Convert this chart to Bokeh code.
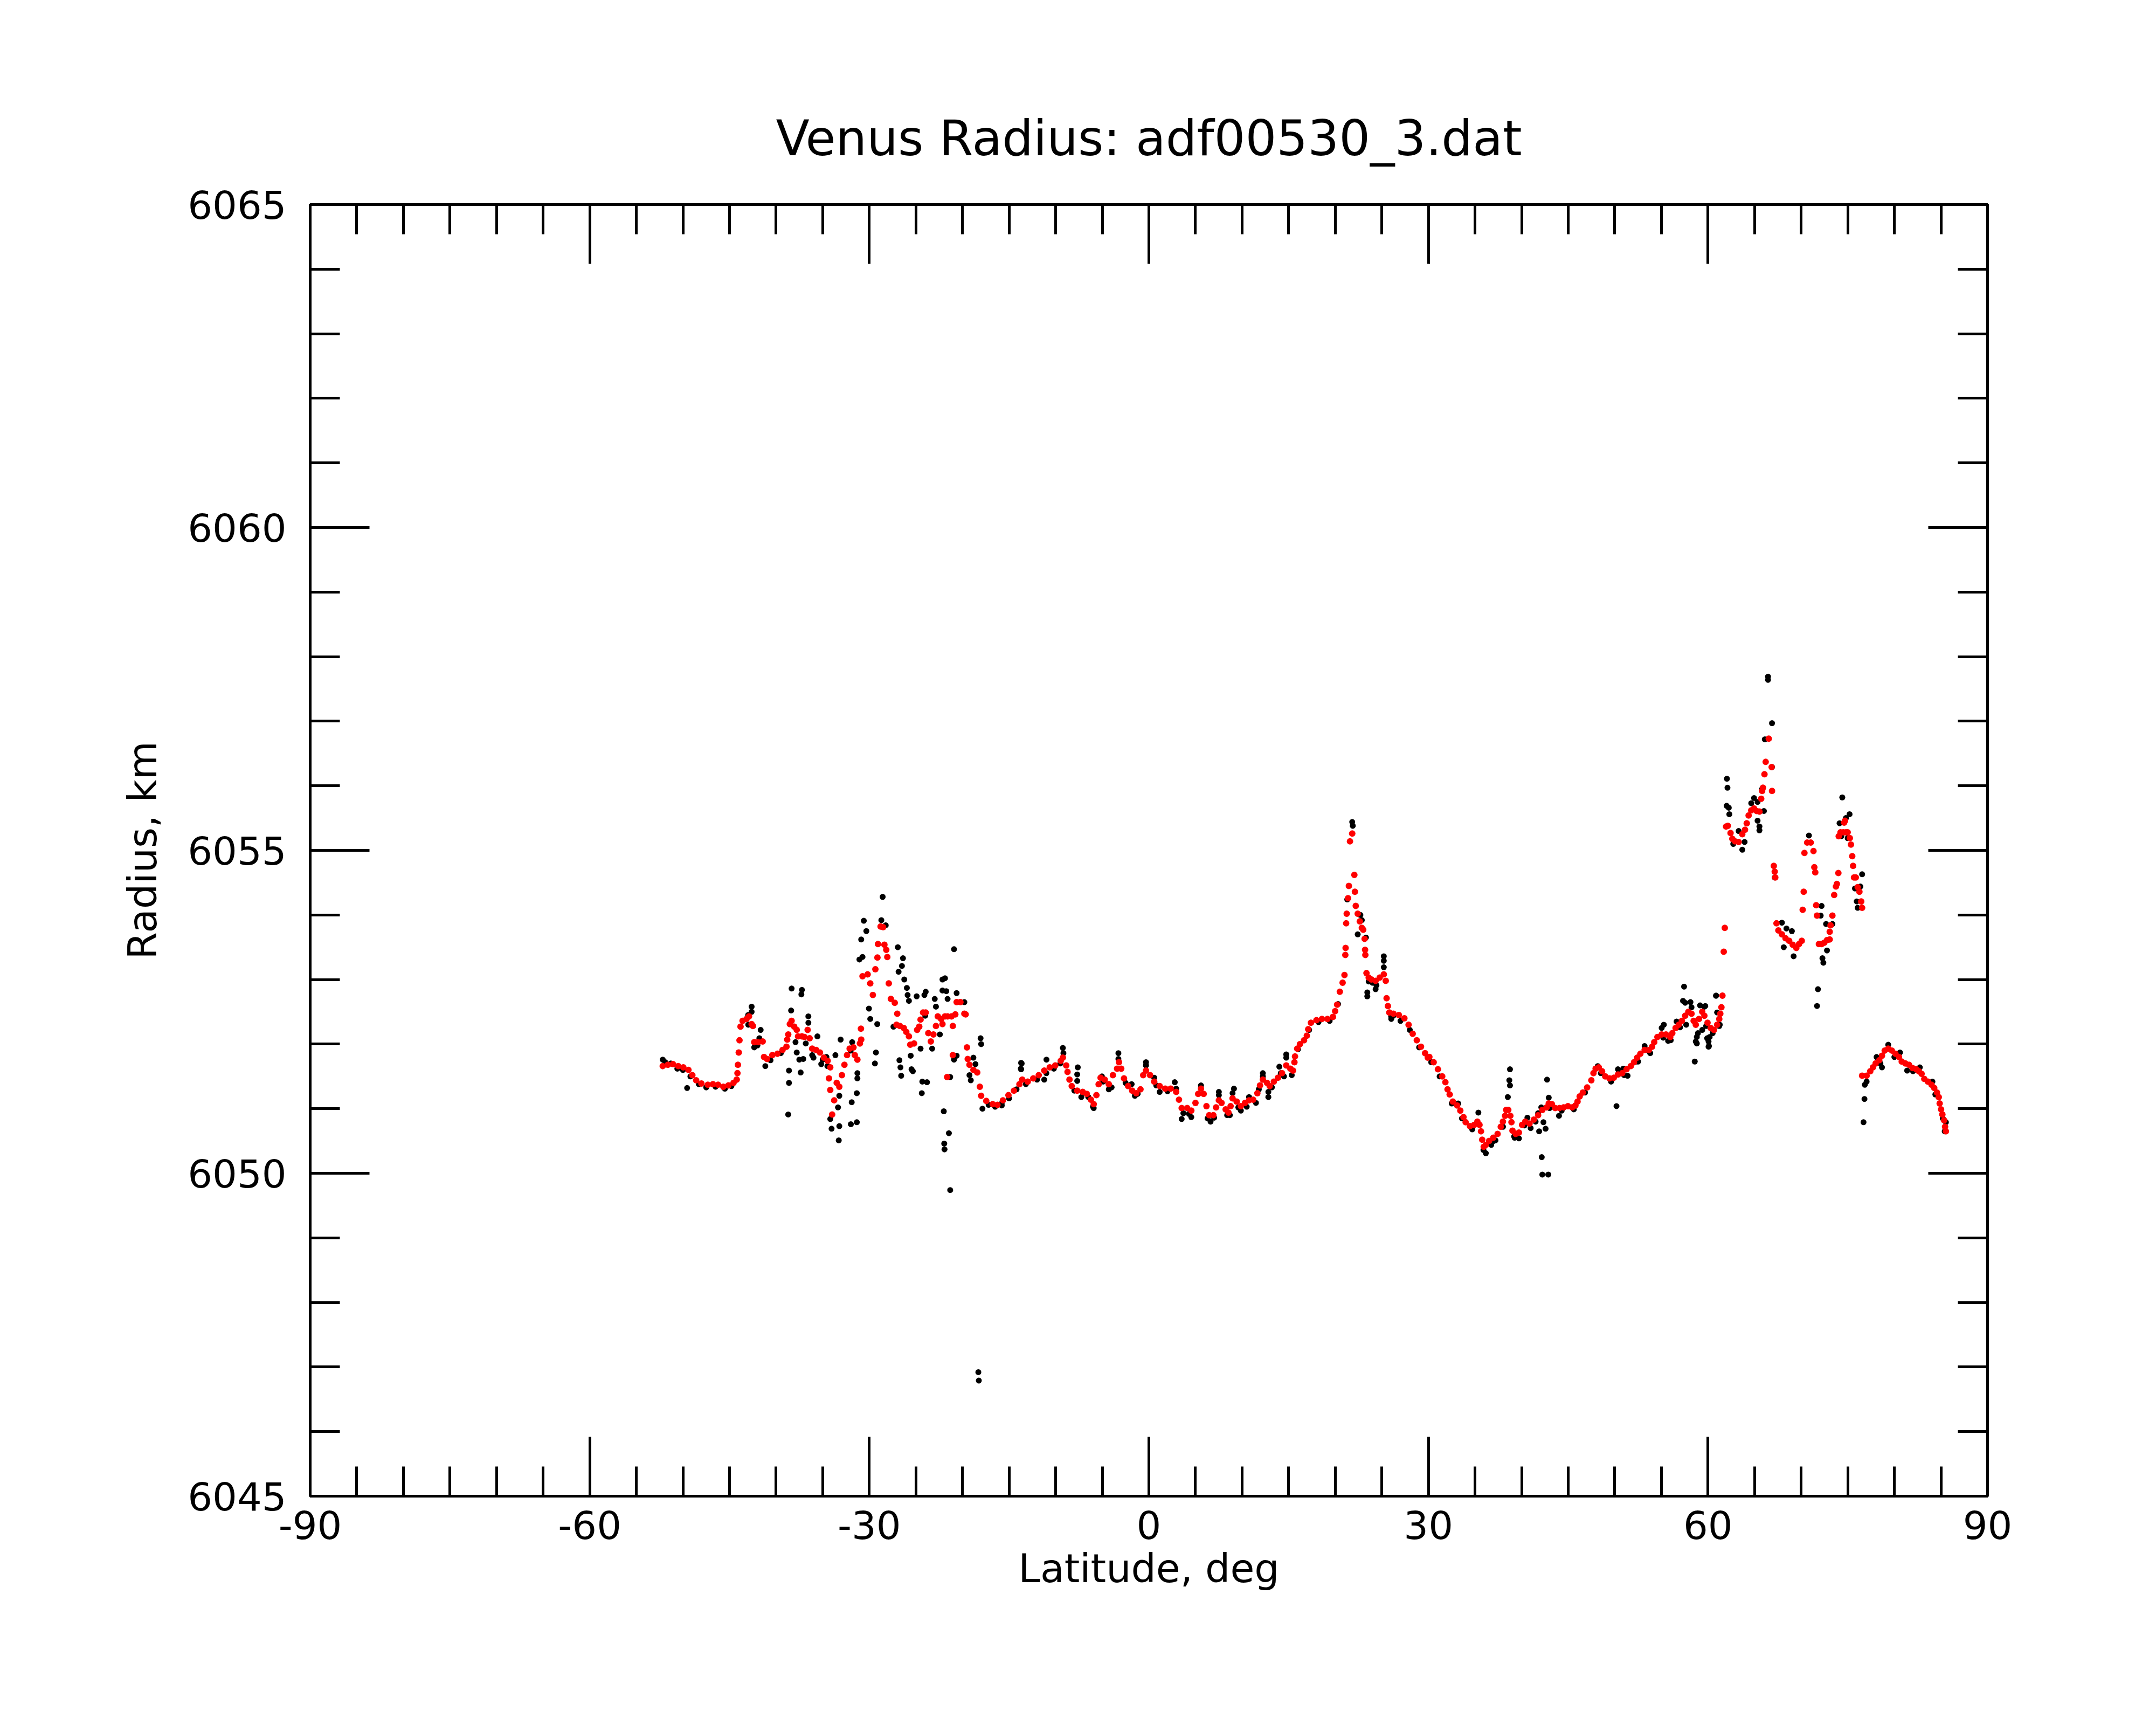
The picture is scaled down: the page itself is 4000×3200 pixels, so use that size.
from bokeh.plotting import figure
from bokeh.models import Range1d, FixedTicker, LinearAxis
from bokeh.embed import file_html
from bokeh.resources import INLINE

# ---------------- data ----------------
title_text = "Venus Radius: adf00530_3.dat"
x_label = "Latitude, deg"
y_label = "Radius, km"

x_major = [-90, -60, -30, 0, 30, 60, 90]
x_minor = list(range(-90, 91, 5))
y_major = [6045, 6050, 6055, 6060, 6065]
y_minor = list(range(6045, 6066, 1))

# smoothed radius (red), southern part
fit_lat_s = [-52.17,-51.62,-51.07,-50.51,-49.96,-49.41,-48.99,-48.58,-48.02,-47.33,
             -46.78,-46.23,-45.67,-45.12,-44.57,-44.23,-44.15,-44.10,-44.01,-43.93,
             -43.82,-43.60,-43.18,-42.91,-42.63,-42.49,-42.35,-41.94,-41.44,-41.30,
             -40.97,-40.41,-39.86,-39.31,-38.89,-38.81,-38.70,-38.53,-38.34,-38.06,
             -37.79,-37.65,-37.23,-36.96,-36.62,-36.40,-36.13,-35.71,-35.30,-34.88,
             -34.47,-34.19,-34.33,-34.19,-33.77,-33.99,-33.50,-33.22,-32.94,-32.67,
             -32.39,-32.11,-31.70,-31.56,-31.28,-31.01,-30.87,-30.90,-30.73,-30.18,
             -29.90,-29.62,-29.35,-29.13,-29.07,-28.79,-28.52,-28.38,-28.18,-28.07,
             -27.91,-27.69,-27.27,-27.00,-27.08,-26.72,-26.30,-26.03,-25.75,-25.61,
             -25.20,-24.87,-24.64,-24.50,-24.23,-23.95,-23.67,-23.40,-23.12,-22.85,
             -22.65,-22.29,-22.15,-21.88,-21.60,-21.18,-21.04,-20.77,-20.63,-20.22,
             -19.80,-19.66,-21.04,-21.65,-19.52,-19.44,-19.25,-18.83,-18.42,-18.14,
             -18.00,-17.45,-16.76]
fit_rad_s = [6051.66,6051.68,6051.69,6051.66,6051.64,6051.60,6051.52,6051.44,6051.39,6051.37,
             6051.38,6051.37,6051.34,6051.36,6051.40,6051.45,6051.55,6051.68,6051.87,6052.06,
             6052.27,6052.36,6052.39,6052.43,6052.31,6052.28,6052.03,6052.03,6052.04,6051.80,
             6051.77,6051.83,6051.85,6051.91,6051.96,6052.07,6052.15,6052.31,6052.36,6052.27,
             6052.22,6052.12,6052.12,6052.11,6052.22,6052.09,6051.93,6051.91,6051.87,6051.79,
             6051.74,6051.64,6051.47,6051.29,6051.13,6050.91,6051.40,6051.34,6051.52,6051.68,
             6051.83,6051.93,6051.95,6051.83,6051.76,6052.01,6052.07,6052.24,6053.05,6053.08,
             6052.94,6052.76,6053.16,6053.34,6053.55,6053.82,6053.81,6053.54,6053.46,6053.35,
             6052.94,6052.70,6052.64,6052.47,6052.30,6052.28,6052.25,6052.19,6052.12,6051.99,
             6052.01,6052.22,6052.27,6052.38,6052.49,6052.49,6052.17,6052.04,6052.15,6052.28,
             6052.43,6052.39,6052.31,6052.43,6052.43,6052.43,6052.28,6052.46,6052.65,6052.65,
             6052.47,6052.46,6051.83,6051.49,6051.95,6051.77,6051.68,6051.60,6051.56,6051.34,
             6051.20,6051.12,6051.07]

# smoothed radius (red), equatorial part
fit_lat_e = [-16.25,-15.66,-15.07,-14.48,-13.89,-13.59,-13.00,-12.41,-11.82,-11.23,
             -10.64,-10.05,-9.46,-9.23,-8.87,-8.73,-8.52,-8.28,-7.69,-7.10,
             -6.66,-6.22,-5.92,-5.63,-5.39,-5.18,-4.74,-4.30,-3.86,-3.41,
             -3.21,-2.97,-2.67,-2.23,-1.79,-1.35,-0.90,-0.61,-0.31,0.13,
             0.57,1.16,1.75,2.34,2.93,3.23,3.52,4.11,4.55,5.00,
             5.29,5.59,5.88,6.18,6.47,6.92,7.21,7.51,7.80,8.24,
             8.54,8.77,8.98,9.42,9.87,10.31,10.75,11.19,11.64,11.93,
             12.23,12.67,12.96,13.41,13.85,14.29,14.74,15.18,15.47,15.62,
             15.68,15.92,16.21,16.65,16.95,17.10,17.39,17.98,18.57,19.16,
             19.75,19.99,20.20,20.49,20.79,20.99,21.08,21.11,21.17,21.23,
             21.37,21.46,21.58,21.82,22.05,22.11,22.20,22.41,22.64,22.85,
             23.00,23.15,23.20,23.23,23.35,23.59,23.88,24.33,24.77,25.21,
             25.42,25.51,25.65,25.80,26.24,26.83,27.42,27.87,28.31,28.75,
             29.20,29.64,29.93]
fit_rad_e = [6051.06,6051.13,6051.21,6051.28,6051.38,6051.45,6051.42,6051.47,6051.52,6051.59,
             6051.64,6051.67,6051.74,6051.79,6051.67,6051.57,6051.45,6051.35,6051.28,6051.26,
             6051.23,6051.14,6051.07,6051.21,6051.38,6051.48,6051.45,6051.38,6051.52,6051.62,
             6051.72,6051.62,6051.47,6051.35,6051.28,6051.24,6051.30,6051.52,6051.59,6051.52,
             6051.42,6051.35,6051.31,6051.31,6051.26,6051.14,6051.01,6051.01,6050.97,6051.09,
             6051.23,6051.31,6051.23,6051.04,6050.90,6050.90,6051.02,6051.13,6051.09,6050.99,
             6050.94,6051.04,6051.16,6051.11,6051.04,6051.09,6051.13,6051.14,6051.24,6051.36,
             6051.45,6051.40,6051.35,6051.42,6051.48,6051.55,6051.67,6051.62,6051.59,6051.72,
             6051.81,6051.93,6052.00,6052.06,6052.13,6052.23,6052.33,6052.37,6052.39,6052.39,
             6052.42,6052.51,6052.61,6052.81,6052.95,6053.07,6053.38,6053.49,6053.87,6054.02,
             6054.26,6054.45,6055.14,6055.26,6054.62,6054.36,6054.14,6054.02,6053.90,6053.80,
             6053.77,6053.63,6053.46,6053.38,6053.10,6053.03,6053.00,6052.98,6053.03,6053.08,
             6052.98,6052.71,6052.59,6052.49,6052.47,6052.45,6052.40,6052.30,6052.16,6052.06,
             6051.96,6051.86,6051.79]

# smoothed radius (red), mid-northern part
fit_lat_m = [30.10,30.56,31.02,31.48,31.82,32.05,32.28,32.62,33.08,33.42,
             33.76,33.99,34.45,34.91,35.25,35.48,35.64,35.77,35.93,36.16,
             36.51,36.96,37.42,37.76,37.99,38.22,38.34,38.57,38.79,38.91,
             39.02,39.37,39.71,40.05,40.39,40.85,41.31,41.77,42.22,42.68,
             42.91,43.25,43.60,44.05,44.51,44.97,45.43,45.77,46.00,46.23,
             46.57,47.03,47.48,47.71,47.94,48.28,48.63,48.97,49.43,49.89,
             50.34,50.80,51.26,51.72,52.06,52.40,52.74,53.20,53.66,54.00,
             54.23,54.57,55.03,55.49,55.95,56.17,56.52,56.86,57.20,57.55,
             57.89,58.23,58.46,58.69,59.03,59.38,59.61,59.95,60.29,60.64,
             60.98,61.21,61.32,61.44,61.55]
fit_rad_m = [6051.80,6051.72,6051.61,6051.50,6051.41,6051.30,6051.22,6051.11,6051.05,6050.97,
             6050.87,6050.79,6050.73,6050.75,6050.80,6050.75,6050.65,6050.52,6050.41,6050.44,
             6050.50,6050.55,6050.61,6050.72,6050.80,6050.89,6050.98,6050.98,6050.89,6050.79,
             6050.66,6050.61,6050.63,6050.75,6050.80,6050.77,6050.83,6050.90,6050.98,6051.02,
             6051.08,6051.07,6051.01,6051.01,6051.02,6051.04,6051.02,6051.05,6051.11,6051.19,
             6051.25,6051.33,6051.44,6051.55,6051.62,6051.64,6051.58,6051.50,6051.47,6051.48,
             6051.53,6051.55,6051.61,6051.66,6051.72,6051.79,6051.85,6051.91,6051.91,6051.96,
             6052.03,6052.11,6052.15,6052.15,6052.11,6052.17,6052.25,6052.30,6052.36,6052.44,
             6052.50,6052.47,6052.36,6052.30,6052.39,6052.50,6052.44,6052.33,6052.25,6052.22,
             6052.30,6052.39,6052.47,6052.57,6052.75]

# smoothed radius (red), high northern part
fit_lat_n = [61.69,61.80,61.94,62.13,62.42,62.61,62.90,63.29,63.68,63.97,
             64.16,64.36,64.64,64.94,65.23,65.52,65.71,65.81,65.90,66.06,
             66.19,66.52,66.83,66.87,67.06,67.16,67.22,67.35,67.55,67.93,
             68.32,68.71,69.09,69.48,69.77,70.06,70.16,70.27,70.35,70.64,
             71.03,71.32,71.41,71.51,71.61,71.70,71.90,72.19,72.48,72.77,
             73.06,73.06,73.15,73.35,73.54,73.73,73.83,73.99,74.03,74.22,
             74.51,74.80,74.99,74.61,74.70,75.22,75.34,75.48,75.57,75.67,
             75.86,76.06,76.25,76.44,76.54]
fit_rad_n = [6053.43,6053.80,6055.37,6055.38,6055.27,6055.18,6055.14,6055.13,6055.25,6055.32,
             6055.42,6055.54,6055.62,6055.65,6055.61,6055.60,6055.80,6055.92,6055.97,6056.18,
             6056.37,6056.73,6056.29,6055.92,6054.76,6054.67,6054.58,6053.87,6053.76,6053.70,
             6053.64,6053.60,6053.54,6053.49,6053.55,6053.60,6054.08,6054.36,6054.96,6055.12,
             6055.12,6054.99,6054.74,6054.66,6054.15,6053.99,6053.55,6053.55,6053.57,6053.61,
             6053.62,6053.74,6053.84,6053.99,6054.31,6054.44,6054.48,6054.65,6055.22,6055.28,
             6055.28,6055.28,6055.28,6055.43,6055.46,6055.19,6055.09,6054.91,6054.76,6054.58,
             6054.58,6054.43,6054.36,6054.21,6054.11]

# smoothed radius (red), polar part
fit_lat_p = [76.54,77.02,77.41,77.70,77.99,78.38,78.67,78.96,79.34,79.73,
             80.12,80.50,80.79,81.18,81.57,81.95,82.34,82.63,82.92,83.21,
             83.60,83.99,84.28,84.57,84.76,84.86,85.01,85.15,85.34,85.44,85.53]
fit_rad_p = [6051.51,6051.51,6051.58,6051.64,6051.70,6051.75,6051.82,6051.90,6051.93,6051.90,
             6051.85,6051.80,6051.73,6051.70,6051.68,6051.63,6051.61,6051.58,6051.54,6051.46,
             6051.42,6051.37,6051.32,6051.25,6051.18,6051.08,6050.99,6050.91,6050.82,6050.72,6050.65]

# raw radius samples (black), (latitude, radius)
raw_south = [(-52.17,6051.76),(-49.55,6051.32),(-42.63,6052.58),(-42.63,6052.50),(-42.99,6052.30),
    (-41.66,6052.22),(-41.80,6052.09),(-42.35,6051.95),(-41.16,6051.66),(-38.34,6052.86),
    (-37.23,6052.84),(-37.29,6052.77),(-38.39,6052.52),(-38.62,6051.59),(-38.62,6051.40),
    (-38.70,6050.91),(-37.37,6051.56),(-37.51,6051.76),(-37.09,6051.77),(-37.79,6051.87),
    (-37.92,6052.03),(-36.54,6052.43),(-36.54,6052.33),(-35.57,6052.12),(-36.82,6052.01),
    (-36.13,6051.83),(-35.99,6051.79),(-35.16,6051.69),(-34.60,6051.80),(-33.64,6051.83),
    (-33.08,6052.07),(-34.19,6050.84),(-34.05,6050.69),(-33.22,6050.73),(-33.28,6050.51),
    (-33.36,6051.02),(-33.22,6051.20),(-31.98,6050.76),(-31.34,6050.79),(-31.89,6051.10),
    (-31.34,6051.24),(-31.28,6051.55),(-31.28,6051.47),(-31.84,6052.03),(-30.59,6053.91),
    (-30.32,6053.75),(-30.87,6053.62),(-31.06,6053.31),(-30.73,6053.35),(-30.04,6052.55),
    (-29.90,6052.39),(-29.15,6052.31),(-29.29,6051.87),(-29.40,6051.70),(-28.57,6054.28),
    (-28.71,6053.92),(-28.24,6053.84),(-26.94,6053.50),(-26.39,6053.33),(-26.50,6053.21),
    (-26.86,6053.12),(-26.25,6053.00),(-25.97,6052.87),(-25.89,6052.76),(-25.75,6052.67),
    (-27.41,6052.27),(-26.77,6051.75),(-26.66,6051.64),(-26.58,6051.51),(-25.56,6051.82),
    (-25.47,6051.61),(-25.33,6051.58),(-24.92,6052.74),(-24.09,6052.76),(-23.95,6052.81),
    (-22.98,6052.70),(-22.85,6052.58),(-24.50,6051.93),(-24.31,6051.42),(-23.81,6051.41),
    (-24.37,6051.24),(-23.26,6051.93),(-22.43,6052.15),(-22.15,6053.00),(-21.88,6053.02),
    (-22.15,6052.83),(-21.74,6052.82),(-21.60,6052.70),(-20.63,6052.79),(-19.80,6052.65),
    (-20.91,6053.47),(-22.01,6050.96),(-21.46,6050.62),(-21.96,6050.46),(-21.93,6050.37),
    (-21.32,6049.74),(-21.32,6051.49),(-20.91,6051.76),(-20.63,6051.82),(-18.06,6052.09),
    (-18.00,6052.00),(-18.83,6051.79),(-18.61,6051.69),(-19.25,6051.52),(-19.11,6051.44),
    (-17.86,6051.00),(-15.79,6051.05),(-13.71,6051.71),(-13.71,6051.61),(-18.30,6046.92),
    (-18.25,6046.79)]

raw_equator = [(-13.65,6051.70),(-13.74,6051.62),(-10.99,6051.76),(-11.23,6051.45),(-9.23,6051.94),
    (-9.17,6051.86),(-7.63,6051.64),(-7.69,6051.53),(-7.69,6051.43),(-7.25,6051.18),
    (-5.92,6051.01),(-5.04,6051.50),(-4.30,6051.30),(-3.27,6051.86),(-3.27,6051.77),
    (-1.85,6051.38),(-1.20,6051.23),(-0.31,6051.72),(-0.31,6051.67),(0.57,6051.48),
    (1.16,6051.26),(2.78,6051.41),(2.93,6051.31),(3.52,6050.84),(4.55,6050.87),
    (5.59,6051.36),(6.62,6050.80),(7.51,6051.26),(7.51,6051.21),(8.69,6050.90),
    (9.13,6051.31),(8.98,6051.24),(9.87,6050.97),(10.75,6051.18),(11.49,6051.09),
    (12.23,6051.55),(12.23,6051.50),(12.82,6051.18),(12.82,6051.26),(14.00,6051.65),
    (14.15,6051.55),(14.74,6051.84),(14.74,6051.79),(15.33,6051.52),(21.82,6055.44),
    (21.88,6055.38),(21.46,6054.45),(21.29,6054.24),(22.70,6054.00),(22.85,6053.92),
    (22.41,6053.70),(23.29,6053.65),(23.44,6052.80),(23.44,6052.74),(23.59,6052.97),
    (24.33,6052.85),(24.42,6052.91),(25.21,6053.36),(25.21,6053.29),(25.21,6053.19),
    (26.01,6052.39),(26.24,6052.44)]

raw_mid = [(38.75,6051.61),(38.68,6051.44),(38.75,6051.36),(38.52,6051.18),(42.73,6051.45),
    (42.91,6051.17),(42.11,6051.02),(41.77,6050.93),(42.34,6050.79),(42.57,6050.69),
    (41.88,6050.65),(44.01,6050.89),(42.16,6050.25),(42.22,6049.98),(42.86,6049.98),
    (50.18,6051.04),(35.36,6050.94),(40.62,6050.86),(40.97,6050.70),(39.25,6050.55),
    (39.71,6050.54),(36.16,6050.31),(36.74,6050.44),(37.19,6050.51),(34.56,6050.72),
    (33.19,6051.08),(51.37,6051.51),(50.34,6051.61),(50.91,6051.62),(48.17,6051.66),
    (52.29,6051.73),(53.66,6051.89),(53.20,6051.97),(55.26,6052.30),(55.03,6052.25),
    (55.72,6052.05),(56.63,6052.35),(57.43,6052.89),(57.32,6052.67),(57.55,6052.64),
    (58.12,6052.65),(58.23,6052.57),(57.66,6052.30),(59.15,6052.60),(59.61,6052.58),
    (59.38,6052.22),(58.92,6052.17),(58.80,6052.11),(58.69,6052.04),(58.80,6052.01),
    (60.18,6052.11),(60.06,6052.04),(60.06,6051.96),(58.58,6051.73),(60.86,6052.75),
    (61.21,6052.28),(60.98,6052.49)]

raw_north = [(62.03,6056.11),(62.09,6055.97),(62.00,6055.69),(62.23,6055.66),(62.29,6055.56),
    (62.71,6055.10),(63.29,6055.30),(63.68,6055.01),(63.93,6055.13),(64.64,6055.73),
    (64.94,6055.81),(65.32,6055.75),(66.00,6055.61),(65.32,6055.46),(65.52,6055.37),
    (65.52,6055.31),(66.44,6057.69),(66.44,6057.64),(66.87,6056.97),(66.10,6056.72),
    (66.87,6056.29),(65.81,6055.95),(67.16,6054.58),(67.93,6053.88),(68.42,6053.79),
    (69.00,6053.75),(68.13,6053.50),(69.19,6053.36),(70.83,6055.23),(72.19,6054.14),
    (72.09,6053.99),(72.67,6053.86),(73.35,6053.86),(72.28,6053.33),(72.38,6053.26),
    (71.80,6052.85),(71.70,6052.59),(72.77,6053.45),(74.41,6055.82),(75.19,6055.56),
    (74.80,6055.50),(74.12,6055.42),(74.31,6055.22),(74.99,6055.19),(76.54,6054.63),
    (76.35,6054.44),(75.77,6054.41),(75.96,6054.21),(76.06,6054.11),(76.83,6051.37),
    (77.02,6051.42),(76.79,6051.15),(76.69,6050.79),(78.09,6051.80),(78.67,6051.64),
    (79.34,6051.99),(80.60,6051.87),(81.37,6051.59),(82.73,6051.64),(84.08,6051.42),
    (85.53,6050.79),(60.87,6052.75),(59.91,6052.09),(60.10,6051.97),(61.26,6052.30),
    (59.71,6052.59)]

raw_track = [(-51.9,6051.72),(-51.3,6051.70),(-50.6,6051.62),(-50.0,6051.60),(-49.2,6051.50),
    (-48.3,6051.38),(-47.5,6051.33),(-46.5,6051.34),(-45.5,6051.31),(-44.8,6051.35),
    (-43.0,6052.45),(-42.0,6051.98),(-40.6,6051.75),(-39.5,6051.86),(-35.0,6051.76),
    (-34.5,6051.66),(-32.0,6051.90),(-24.0,6052.44),(-17.2,6051.06),(-16.5,6051.03),
    (-15.8,6051.08),(-15.0,6051.16),(-14.2,6051.30),(-13.2,6051.38),(-12.0,6051.45),
    (-11.0,6051.55),(-10.2,6051.62),(-9.5,6051.70),(-8.0,6051.28),(-6.5,6051.18),
    (-6.0,6051.03),(-4.9,6051.42),(-4.0,6051.33),(-2.5,6051.40),(-1.5,6051.20),
    (0.8,6051.36),(2.0,6051.27),(3.7,6050.93),(4.3,6050.92),(6.3,6050.85),
    (7.0,6050.86),(8.4,6050.90),(9.6,6051.02),(10.5,6051.03),(11.8,6051.30),
    (13.2,6051.33),(14.5,6051.50),(16.0,6051.92),(17.2,6052.22),(18.2,6052.34),
    (19.4,6052.36),(20.3,6052.62),(24.0,6052.95),(26.0,6052.43),(27.0,6052.36),
    (28.0,6052.22),(29.0,6051.95),(30.3,6051.72),(31.2,6051.50),(32.5,6051.08),
    (33.6,6050.85),(34.7,6050.68),(35.9,6050.36),(37.0,6050.50),(38.0,6050.72),
    (39.2,6050.57),(40.3,6050.74),(41.5,6050.80),(43.0,6051.01),(44.3,6050.97),
    (45.6,6050.99),(46.8,6051.25),(48.5,6051.55),(49.6,6051.42),(51.0,6051.52),
    (52.5,6051.73),(53.8,6051.86),(55.2,6052.10),(56.0,6052.06),(57.0,6052.26),
    (59.8,6052.28),(60.5,6052.17),(78.5,6051.70),(80.0,6051.80),(82.0,6051.58),
    (84.4,6051.22),(85.2,6050.85),(85.4,6050.65)]

# ---------------- assemble ----------------
for a, b in [(fit_lat_s, fit_rad_s), (fit_lat_e, fit_rad_e), (fit_lat_m, fit_rad_m),
             (fit_lat_n, fit_rad_n), (fit_lat_p, fit_rad_p)]:
    assert len(a) == len(b), (len(a), len(b))

fit_lat = fit_lat_s + fit_lat_e + fit_lat_m + fit_lat_n + fit_lat_p
fit_rad = fit_rad_s + fit_rad_e + fit_rad_m + fit_rad_n + fit_rad_p
raw_all = raw_south + raw_equator + raw_mid + raw_north + raw_track
raw_lat = [t[0] for t in raw_all]
raw_rad = [t[1] for t in raw_all]

FONT = "DejaVu Sans"

p = figure(width=3984, height=3184, output_backend="svg", toolbar_location=None,
           x_range=Range1d(-90, 90), y_range=Range1d(6045, 6065),
           min_border_left=575, min_border_right=297,
           min_border_top=379, min_border_bottom=409,
           title=title_text)
p.background_fill_color = "white"
p.border_fill_color = "white"
p.grid.visible = False
p.outline_line_color = "black"
p.outline_line_width = 5

p.title.text_font = FONT
p.title.text_font_size = "91px"
p.title.text_font_style = "normal"
p.title.text_color = "black"
p.title.align = "center"
p.title.standoff = 142

xt = LinearAxis()
yr = LinearAxis()
p.add_layout(xt, "above")
p.add_layout(yr, "right")

xb = p.xaxis[0] if p.xaxis[0] is not xt else p.xaxis[1]
yl = p.yaxis[0] if p.yaxis[0] is not yr else p.yaxis[1]

for ax in (xb, xt):
    ax.ticker = FixedTicker(ticks=x_major, minor_ticks=x_minor)
for ax in (yl, yr):
    ax.ticker = FixedTicker(ticks=y_major, minor_ticks=y_minor)

for ax in (xb, xt, yl, yr):
    ax.axis_line_color = "black"
    ax.axis_line_width = 5
    ax.major_tick_line_color = "black"
    ax.major_tick_line_width = 5
    ax.minor_tick_line_color = "black"
    ax.minor_tick_line_width = 5
    ax.major_tick_in = 110
    ax.major_tick_out = 0
    ax.minor_tick_in = 55
    ax.minor_tick_out = 0
    ax.major_label_text_font = FONT
    ax.major_label_text_color = "black"
    ax.major_label_text_font_size = "72px"
    ax.axis_label_text_font = FONT
    ax.axis_label_text_font_size = "73px"
    ax.axis_label_text_font_style = "normal"
    ax.axis_label_text_color = "black"

# plain hyphen-minus labels as in the reference
xb.major_label_overrides = {v: str(v) for v in x_major}
yl.major_label_overrides = {v: str(v) for v in y_major}
# top and right axes carry ticks only
xt.major_label_overrides = {v: "" for v in x_major}
yr.major_label_overrides = {v: "" for v in y_major}
xt.major_label_standoff = 0
yr.major_label_standoff = 0

xb.axis_label = x_label
yl.axis_label = y_label
xb.major_label_standoff = 26
xb.axis_label_standoff = 9
yl.major_label_standoff = 44
yl.axis_label_standoff = 38

p.scatter(raw_lat, raw_rad, size=11, marker="circle", fill_color="black", line_color=None)
p.scatter(fit_lat, fit_rad, size=12, marker="circle", fill_color="red", line_color=None)

open("out.html", "w").write(file_html(p, INLINE))
